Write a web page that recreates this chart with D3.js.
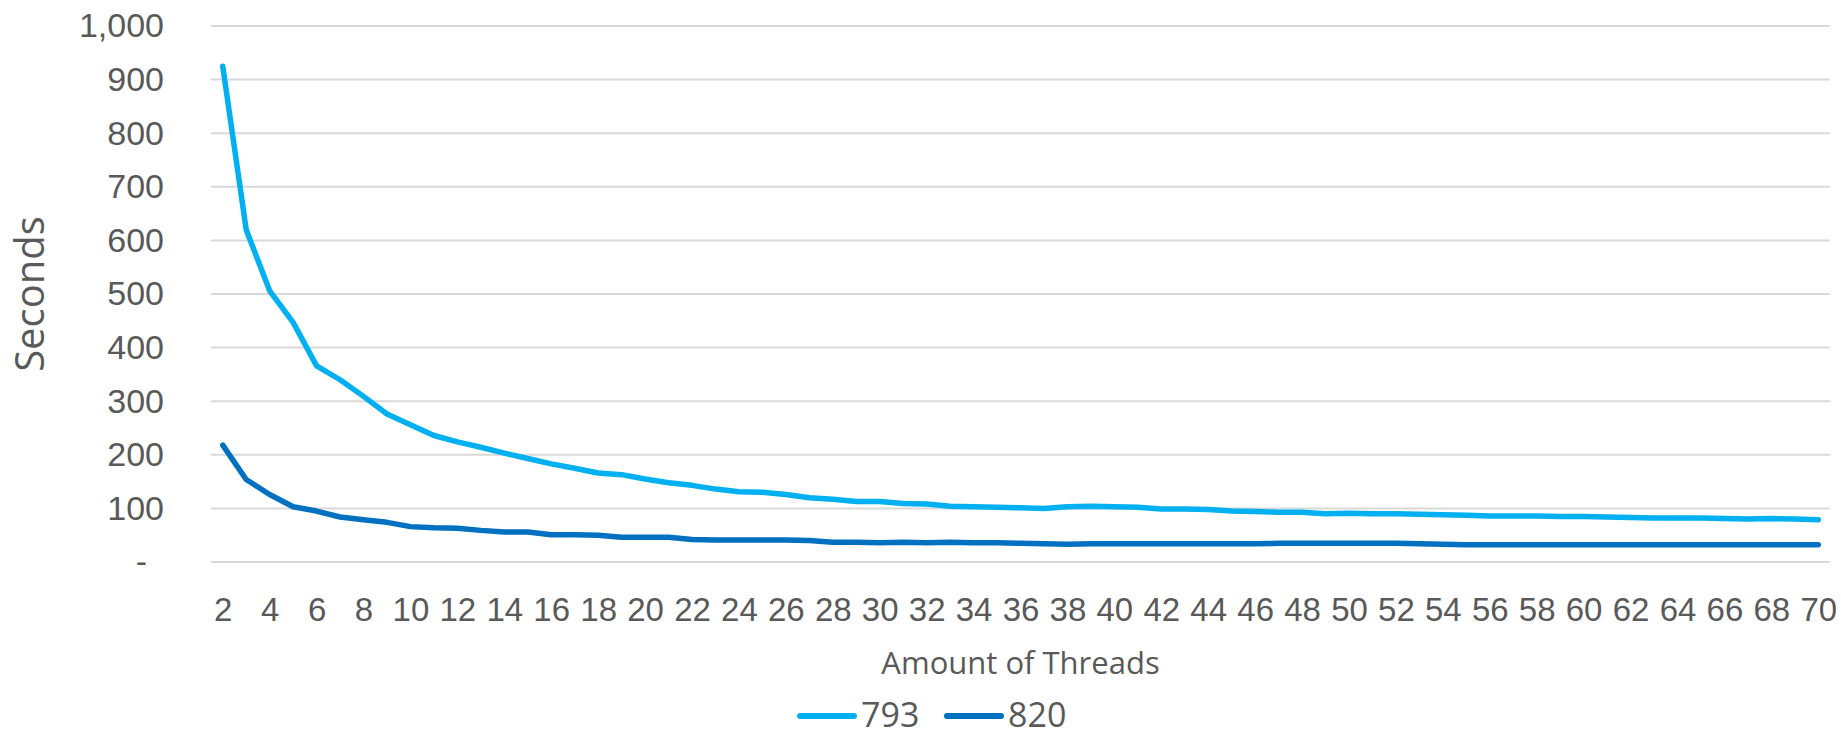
<!DOCTYPE html>
<html>
<head>
<meta charset="utf-8">
<script src="https://cdn.jsdelivr.net/npm/d3@7"></script>
<style>
  html, body { margin: 0; padding: 0; background: #ffffff; }
  svg { display: block; font-family: "Open Sans", "DejaVu Sans", sans-serif; }
</style>
</head>
<body>
<svg id="chart" width="1841" height="736"></svg>
<script>
// Thread counts on the x axis
const threads = d3.range(2, 71);

// Run time in seconds for each input
const series793 = [
  925, 620, 506, 447, 366, 340, 309, 276, 256, 236,
  224, 214, 203, 193, 183, 175, 166, 163, 155, 148,
  143, 136, 131, 130, 126, 120, 117, 113, 113, 109,
  108, 104, 103, 102, 101, 100, 103, 104, 103, 102,
  99, 99, 98, 95, 94, 93, 93, 90, 91, 90,
  90, 89, 88, 87, 86, 86, 86, 85, 85, 84,
  83, 82, 82, 82, 81, 80, 81, 80, 79
];
const series820 = [
  218, 154, 126, 103, 95, 84, 79, 74, 66, 64,
  63, 59, 56, 56, 51, 51, 50, 46, 46, 46,
  42, 41, 41, 41, 41, 40, 37, 37, 36, 37,
  36, 37, 36, 36, 35, 34, 33, 34, 34, 34,
  34, 34, 34, 34, 34, 35, 35, 35, 35, 35,
  35, 34, 33, 32, 32, 32, 32, 32, 32, 32,
  32, 32, 32, 32, 32, 32, 32, 32, 32
];

const seriesNames = ["793", "820"];
const seriesColors = ["#00b0f0", "#0070c0"];
const seriesValues = [series793, series820];

const yTicks = [0, 100, 200, 300, 400, 500, 600, 700, 800, 900, 1000];
const xTickValues = threads.filter(t => t % 2 === 0);

const yTitle = "Seconds";
const xTitle = "Amount of Threads";

const textColor = "#595959";
const gridColor = "#d9d9d9";

const svg = d3.select("#chart");

const plot = { left: 211, right: 1830, top: 26, bottom: 562 };

const x = d3.scalePoint()
  .domain(threads)
  .range([plot.left, plot.right])
  .padding(0.5);

const y = d3.scaleLinear()
  .domain([0, 1000])
  .range([plot.bottom, plot.top]);

// Horizontal gridlines
svg.append("g")
  .selectAll("line")
  .data(yTicks)
  .join("line")
  .attr("x1", plot.left)
  .attr("x2", plot.right)
  .attr("y1", d => y(d))
  .attr("y2", d => y(d))
  .attr("stroke", gridColor)
  .attr("stroke-width", 2);

// Y axis labels
const yAxis = svg.append("g")
  .attr("transform", `translate(${plot.left},0)`)
  .call(d3.axisLeft(y)
    .tickValues(yTicks)
    .tickSize(0)
    .tickPadding(47)
    .tickFormat(d => d === 0 ? "-" : d3.format(",")(d)));
yAxis.select(".domain").remove();
yAxis.selectAll("text")
  .attr("fill", textColor)
  .style("font-size", "34px")
  .attr("x", d => d === 0 ? -64 : -47);

// X axis labels
const xAxis = svg.append("g")
  .attr("transform", `translate(0,${plot.bottom})`)
  .call(d3.axisBottom(x)
    .tickValues(xTickValues)
    .tickSize(0)
    .tickPadding(36));
xAxis.select(".domain").remove();
xAxis.selectAll("text")
  .attr("fill", textColor)
  .style("font-size", "33px");

// Axis titles
svg.append("text")
  .attr("transform", `translate(44,${(plot.top + plot.bottom) / 2}) rotate(-90)`)
  .attr("text-anchor", "middle")
  .attr("fill", textColor)
  .style("font-size", "40px")
  .text(yTitle);

svg.append("text")
  .attr("x", (plot.left + plot.right) / 2)
  .attr("y", 674)
  .attr("text-anchor", "middle")
  .attr("fill", textColor)
  .style("font-size", "31px")
  .text(xTitle);

// Data lines
const line = d3.line()
  .x((d, i) => x(threads[i]))
  .y(d => y(d));

svg.append("g")
  .selectAll("path")
  .data(seriesValues)
  .join("path")
  .attr("d", d => line(d))
  .attr("fill", "none")
  .attr("stroke", (d, i) => seriesColors[i])
  .attr("stroke-width", 5.5)
  .attr("stroke-linejoin", "round")
  .attr("stroke-linecap", "round");

// Legend
const legendX = [800, 947];
const legend = svg.append("g")
  .selectAll("g")
  .data(seriesNames)
  .join("g")
  .attr("transform", (d, i) => `translate(${legendX[i]},716)`);

legend.append("line")
  .attr("x1", 0)
  .attr("x2", 54)
  .attr("y1", 0)
  .attr("y2", 0)
  .attr("stroke", (d, i) => seriesColors[i])
  .attr("stroke-width", 6)
  .attr("stroke-linecap", "round");

legend.append("text")
  .attr("x", 61)
  .attr("y", 11)
  .attr("fill", textColor)
  .style("font-size", "34px")
  .text(d => d);
</script>
</body>
</html>
